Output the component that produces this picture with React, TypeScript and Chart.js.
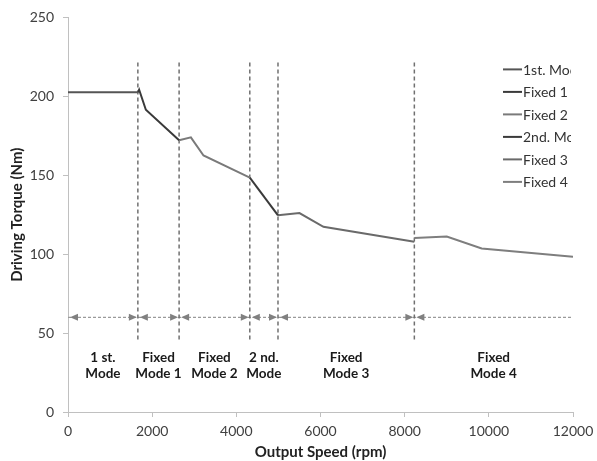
import { useEffect, useRef } from "react";
import { Chart, registerables } from "chart.js";

Chart.register(...registerables);

// ---- data ----
const seriesLabels = ["1st. Mode", "Fixed 1", "Fixed 2", "2nd. Mode", "Fixed 3", "Fixed 4"];
const seriesColors = ["#555555", "#3a3a3a", "#7a7a7a", "#3a3a3a", "#6a6a6a", "#7e7e7e"];

const mode1Speed = [0, 1660];
const mode1Torque = [202.5, 202.5];
const fixed1Speed = [1660, 1690, 1850, 2640];
const fixed1Torque = [202.5, 204.2, 191.5, 172.2];
const fixed2Speed = [2640, 2920, 3220, 4320];
const fixed2Torque = [172.2, 174.0, 162.5, 148.5];
const mode2Speed = [4320, 4990];
const mode2Torque = [148.5, 124.6];
const fixed3Speed = [4990, 5500, 6070, 8230];
const fixed3Torque = [124.6, 126.0, 117.3, 107.8];
const fixed4Speed = [8230, 9000, 9830, 12000];
const fixed4Torque = [110.3, 111.2, 103.6, 98.3];

const seriesSpeeds = [mode1Speed, fixed1Speed, fixed2Speed, mode2Speed, fixed3Speed, fixed4Speed];
const seriesTorques = [mode1Torque, fixed1Torque, fixed2Torque, mode2Torque, fixed3Torque, fixed4Torque];

const boundaries = [0, 1660, 2640, 4320, 4990, 8230, 12000];
const dividerSpeeds = [1660, 2640, 4320, 4990, 8230];
const dividerTorqueRange = [46, 222];
const arrowTorque = 60;

const modeNames = [
  ["1 st.", "Mode"],
  ["Fixed", "Mode 1"],
  ["Fixed", "Mode 2"],
  ["2 nd.", "Mode"],
  ["Fixed", "Mode 3"],
  ["Fixed", "Mode 4"],
];
const modeLabelTorque = [34.5, 24.5];

const xMin = 0, xMax = 12000, xStep = 2000;
const yMin = 0, yMax = 250, yStep = 50;

const FONT = "Lato, 'Open Sans', sans-serif";

const overlayPlugin = {
  id: "overlay",
  afterDatasetsDraw(chart: any) {
    const { ctx, scales, chartArea } = chart;
    const x = scales.x, y = scales.y;
    const yp = y.getPixelForValue(arrowTorque);
    const L = 8, H = 3.5;
    ctx.save();
    ctx.fillStyle = "#808080";
    const tri = (tx: number, d: number) => {
      ctx.beginPath();
      ctx.moveTo(tx, yp);
      ctx.lineTo(tx - d * L, yp - H);
      ctx.lineTo(tx - d * L, yp + H);
      ctx.closePath();
      ctx.fill();
    };
    for (let i = 0; i < boundaries.length - 1; i++) {
      const a = x.getPixelForValue(boundaries[i]);
      const b = x.getPixelForValue(boundaries[i + 1]);
      tri(a + 2, -1);
      if (i < boundaries.length - 2) tri(b - 1, 1);
    }
    // mode labels
    ctx.fillStyle = "#1a1a1a";
    ctx.font = `bold 13.5px ${FONT}`;
    ctx.textAlign = "center";
    ctx.textBaseline = "middle";
    for (let i = 0; i < modeNames.length; i++) {
      const mid = (boundaries[i] + boundaries[i + 1]) / 2;
      const px = x.getPixelForValue(mid);
      modeNames[i].forEach((t, k) => {
        ctx.fillText(t, px, y.getPixelForValue(modeLabelTorque[k]));
      });
    }
    // legend
    ctx.beginPath();
    ctx.rect(0, 0, chartArea.right - 2, chart.height);
    ctx.clip();
    ctx.font = `14px ${FONT}`;
    ctx.textAlign = "left";
    const lx = chartArea.right - 70;
    const ly = chartArea.top + 52;
    seriesLabels.forEach((lab, i) => {
      const yy = ly + i * 22.5;
      ctx.strokeStyle = seriesColors[i];
      ctx.lineWidth = 2;
      ctx.beginPath();
      ctx.moveTo(lx, yy);
      ctx.lineTo(lx + 19, yy);
      ctx.stroke();
      ctx.fillStyle = "#333333";
      ctx.fillText(lab, lx + 20, yy + 1);
    });
    ctx.restore();
  },
};

export default function App() {
  const ref = useRef<HTMLCanvasElement | null>(null);
  useEffect(() => {
    if (!ref.current) return;
    const datasets: any[] = [];
    seriesLabels.forEach((lab, i) => {
      datasets.push({
        label: lab,
        data: seriesSpeeds[i].map((s, k) => ({ x: s, y: seriesTorques[i][k] })),
        showLine: true,
        borderColor: seriesColors[i],
        borderWidth: 2,
        pointRadius: 0,
        tension: 0,
      });
    });
    dividerSpeeds.forEach((s) => {
      datasets.push({
        label: "divider",
        data: dividerTorqueRange.map((t) => ({ x: s, y: t })),
        showLine: true,
        borderColor: "#707070",
        borderWidth: 1.5,
        borderDash: [4, 3],
        pointRadius: 0,
      });
    });
    datasets.push({
      label: "ranges",
      data: boundaries.map((b) => ({ x: b, y: arrowTorque })),
      showLine: true,
      borderColor: "#9a9a9a",
      borderWidth: 1.3,
      borderDash: [3, 2],
      pointRadius: 0,
    });

    const chart = new Chart(ref.current, {
      type: "scatter",
      data: { datasets },
      options: {
        animation: false,
        responsive: false,
        layout: { padding: { top: 17, right: 24, left: 0, bottom: 0 } },
        plugins: { legend: { display: false }, tooltip: { enabled: false } },
        scales: {
          x: {
            type: "linear",
            min: xMin,
            max: xMax,
            ticks: {
              stepSize: xStep,
              color: "#404040",
              font: { family: FONT, size: 14 },
              padding: 6,
              callback: (v: any) => String(v),
            },
            grid: { display: true, drawOnChartArea: false, drawTicks: true, tickLength: 5, color: "#c0c0c0" },
            border: { color: "#c0c0c0" },
            title: {
              display: true,
              text: "Output Speed (rpm)",
              color: "#222222",
              font: { family: FONT, size: 15, weight: "bold" },
              padding: { top: 0, bottom: 0 },
            },
            afterFit: (s: any) => {
              s.height = 49;
              s.paddingRight = 0;
              s.paddingLeft = 0;
            },
          },
          y: {
            type: "linear",
            min: yMin,
            max: yMax,
            ticks: {
              stepSize: yStep,
              color: "#404040",
              font: { family: FONT, size: 14 },
              padding: 9,
              callback: (v: any) => String(v),
            },
            grid: { display: true, drawOnChartArea: false, drawTicks: true, tickLength: 5, color: "#c0c0c0" },
            border: { color: "#c0c0c0" },
            title: {
              display: true,
              text: "Driving Torque (Nm)",
              color: "#222222",
              font: { family: FONT, size: 15, weight: "bold" },
              padding: { top: 8, bottom: 0 },
            },
            afterFit: (s: any) => {
              s.width = 68;
            },
          },
        },
      },
      plugins: [overlayPlugin],
    });
    return () => chart.destroy();
  }, []);

  return (
    <div style={{ position: "absolute", left: 0, top: 0, width: 597, height: 461, background: "#ffffff" }}>
      <canvas ref={ref} width={597} height={461} />
    </div>
  );
}
